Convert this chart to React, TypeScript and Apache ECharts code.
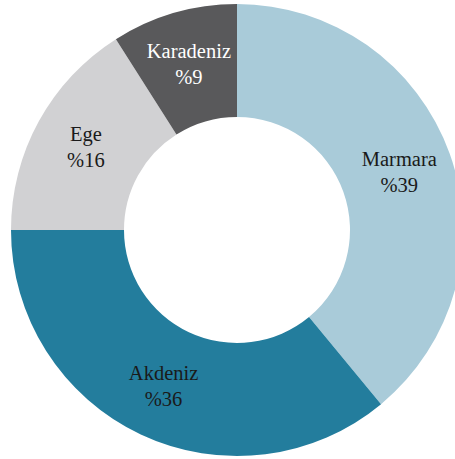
import React, { useEffect, useRef } from "react";
import * as echarts from "echarts";

const categories = ["Marmara", "Akdeniz", "Ege", "Karadeniz"];
const values = [39, 36, 16, 9];
const colors = ["#a9cbd9", "#237d9d", "#d1d1d3", "#59595b"];
const labelColors = ["#1a1a1a", "#1a1a1a", "#1a1a1a", "#ffffff"];

export default function App() {
  const ref = useRef<HTMLDivElement>(null);
  useEffect(() => {
    if (!ref.current) return;
    const chart = echarts.init(ref.current, undefined, { renderer: "svg" });
    chart.setOption({
      animation: false,
      series: [
        {
          type: "pie",
          center: [237, 230],
          radius: [113, 226],
          startAngle: 90,
          clockwise: true,
          avoidLabelOverlap: false,
          labelLine: { show: false },
          data: categories.map((name, i) => ({
            name,
            value: values[i],
            itemStyle: { color: colors[i] },
            label: {
              show: true,
              position: "inside",
              formatter: "{b}\n%{c}",
              color: labelColors[i],
              fontFamily: "Liberation Serif, serif",
              fontSize: 20.5,
              lineHeight: 26,
            },
          })),
          emphasis: { disabled: true },
        },
      ],
    });
    return () => chart.dispose();
  }, []);
  return (
    <div
      ref={ref}
      style={{ position: "fixed", left: 0, top: 0, width: 455, height: 459, background: "#fff" }}
    />
  );
}
